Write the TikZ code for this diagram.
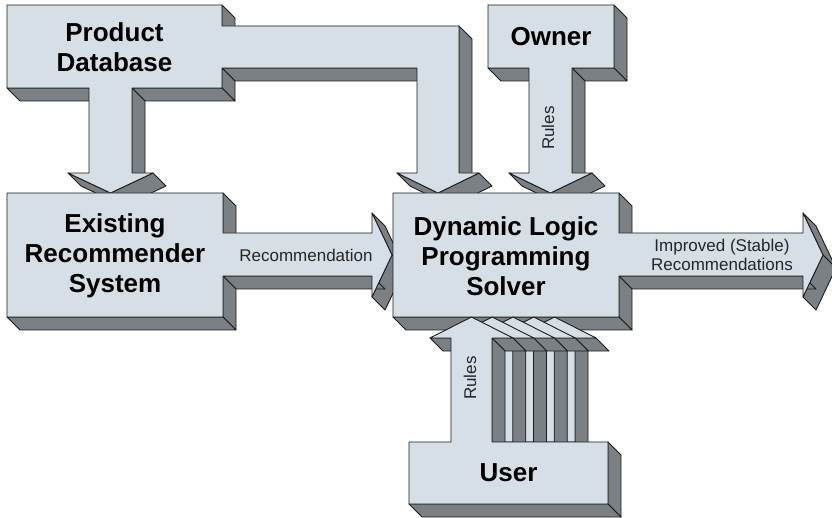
\documentclass[tikz,border=0pt]{standalone}
\usepackage{fontspec}
\setmainfont{Liberation Sans}
\usetikzlibrary{calc}
\definecolor{facelight}{RGB}{213,223,229}
\definecolor{facedark}{RGB}{123,128,132}
\definecolor{edgecol}{RGB}{28,28,28}
\newcommand\depth{13}
% #1: clockwise list of x/y points (image coordinates), first point repeated at end
\newcommand\solidshape[1]{%
  \foreach \x/\y [count=\i, remember=\x as \px (initially 0), remember=\y as \py (initially 0)] in {#1}{%
    \ifnum\i>1
      \pgfmathtruncatemacro\vis{(((\y)-(\py))-((\x)-(\px)))>0.01}%
      \ifnum\vis=1
        \filldraw[sideface] (\px,\py) -- (\x,\y) -- ({(\x)+\depth},{(\y)+\depth}) -- ({(\px)+\depth},{(\py)+\depth}) -- cycle;
      \fi
    \fi
  }%
  \foreach \x/\y [count=\i] in {#1}{%
    \ifnum\i=1 \xdef\frontpath{(\x,\y)}\else \xdef\frontpath{\frontpath -- (\x,\y)}\fi
  }%
  \filldraw[frontface] \frontpath -- cycle;
}
\tikzset{
  sideface/.style={fill=facedark, draw=edgecol, line width=0.9pt, line join=round},
  frontface/.style={fill=facelight, draw=edgecol, line width=0.9pt, line join=round},
  boldlabel/.style={font=\fontsize{26}{30}\selectfont\bfseries, align=center, text=black, inner sep=0pt},
  smalllabel/.style={font=\fontsize{17}{19}\selectfont, align=center, text=black!85, inner sep=0pt}
}
\begin{document}
\begin{tikzpicture}[x=1pt,y=-1pt]
\useasboundingbox (0,0) rectangle (832,518);
\fill[white] (0,0) rectangle (832,518);

% Product Database with two down arrows
\solidshape{7/5, 222/5, 222/26, 459/26, 459/173, 479/173, 438/193, 397/173, 417/173, 417/68, 222/68, 222/88, 132/88, 132/173, 153/173, 110.5/193, 68/173, 89/173, 89/88, 7/88, 7/5}

% Owner with down arrow
\solidshape{488/5, 614/5, 614/68, 572/68, 572/173, 592/173, 550.5/193, 509/173, 529/173, 529/68, 488/68, 488/5}

% Existing Recommender System with right arrow
\solidshape{7/193, 223/193, 223/233, 372/233, 372/213, 392/255, 372/297, 372/276, 223/276, 223/317, 7/317, 7/193}

% Dynamic Logic Programming Solver with right arrow
\solidshape{393/193, 619/193, 619/233, 803/233, 803/213, 823/255, 803/297, 803/276, 619/276, 619/317, 393/317, 393/193}

% stacked user rule arrows (back to front)
\foreach \k in {4,3,2,1}{
  \begin{scope}[xshift=20.75*\k pt]
    \solidshape{451/442, 451/338, 430/338, 471.5/317, 513/338, 492/338, 492/442, 451/442}
  \end{scope}
}

% User with up arrow
\solidshape{409/442, 451/442, 451/338, 430/338, 471.5/317, 513/338, 492/338, 492/442, 608/442, 608/504, 409/504, 409/442}

% labels
\node[boldlabel] (prod) at (114.5,47) {Product\\Database};
\node[boldlabel] (owner) at (551,37) {Owner};
\node[boldlabel] (exist) at (115,256) {Existing\\Recommender\\System};
\node[boldlabel] (dlp) at (506,256) {Dynamic Logic\\Programming\\Solver};
\node[boldlabel] (user) at (508.5,473) {User};
\node[smalllabel] (rec) at (306,255) {Recommendation};
\node[smalllabel] (impr) at (722,255) {Improved (Stable)\\Recommendations};
\node[smalllabel, rotate=90] (rules1) at (548,128) {Rules};
\node[smalllabel, rotate=90] (rules2) at (470,378) {Rules};
\end{tikzpicture}
\end{document}
